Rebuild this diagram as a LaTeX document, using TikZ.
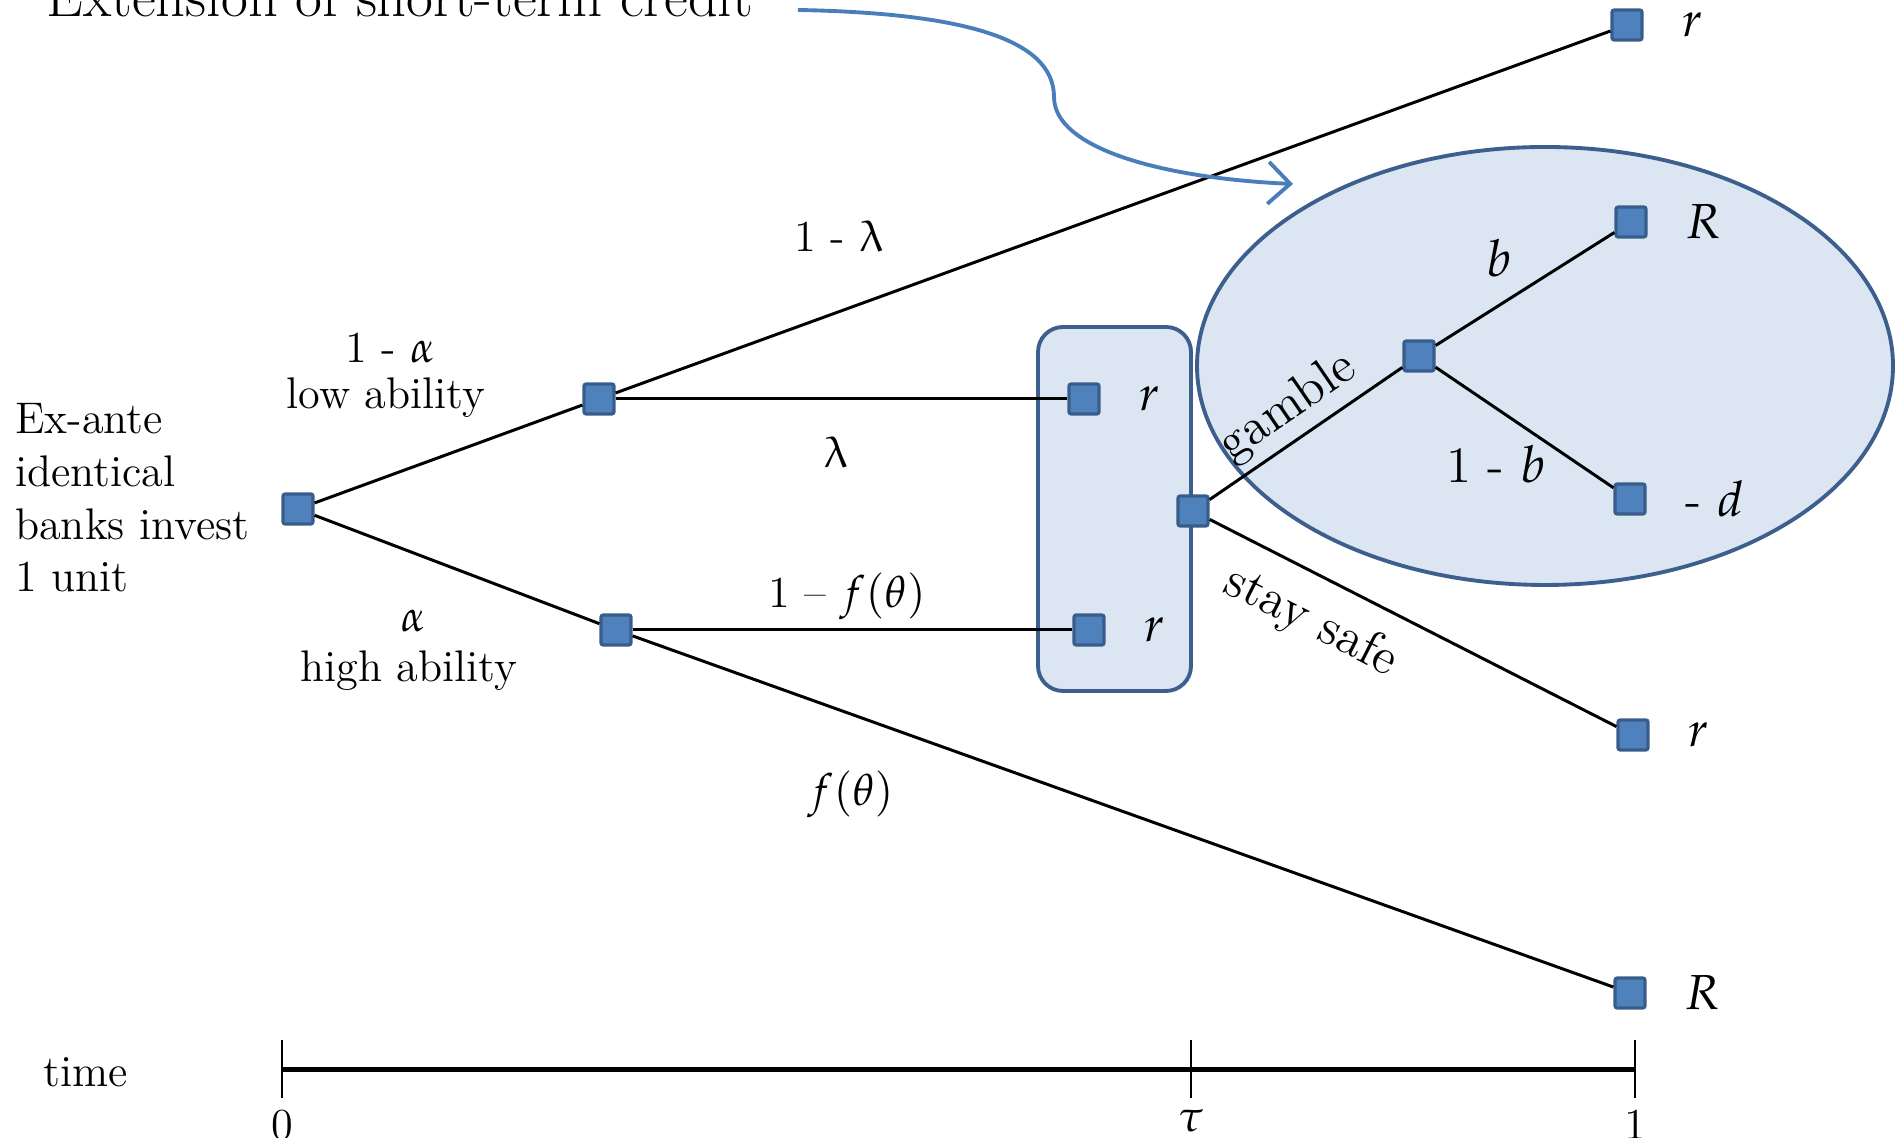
\documentclass[tikz,border=0pt]{standalone}
\usepackage{mathpazo}
\usepackage{upgreek}
\usetikzlibrary{positioning,arrows.meta}
\definecolor{sqblue}{HTML}{4F81BD}
\definecolor{sqedge}{HTML}{385D8A}
\definecolor{setfill}{HTML}{DCE6F3}
\definecolor{setedge}{HTML}{3C5F8D}
\definecolor{arrblue}{HTML}{4A7EBB}

\begin{document}
\begin{tikzpicture}[
  sq/.style={draw=sqedge, fill=sqblue, line width=0.9pt, minimum size=0.3cm, inner sep=0, rounded corners=0.6pt},
  br/.style={line width=0.85pt},
  lab/.style={font=\fontsize{12.6}{15}\selectfont, inner sep=0},
  biglab/.style={font=\fontsize{14.5}{17}\selectfont, inner sep=0},
  pay/.style={font=\fontsize{14}{16}\selectfont, inner sep=0, right=0.38cm of #1},
  infoset/.style={draw=setedge, fill=setfill, line width=1.1pt},
  axis/.style={line width=1.3pt},
  tick/.style={line width=0.5pt},
  arr/.style={-{Straight Barb[length=2.2mm,width=4.2mm]}, draw=arrblue, line width=1.1pt}
]
\useasboundingbox (0,0) rectangle (18.99,11.38);

% information sets
\draw[infoset, rounded corners=0.25cm] (10.38,4.47) rectangle (11.91,8.11);
\draw[infoset] (15.45,7.72) ellipse [x radius=3.48cm, y radius=2.19cm];

% decision nodes
\node[sq] (root) at (2.98,6.29) {};
\node[sq] (low) at (5.99,7.39) {};
\node[sq] (high) at (6.16,5.08) {};
\node[sq] (topr) at (16.27,11.13) {};
\node[sq] (setr1) at (10.84,7.39) {};
\node[sq] (setr2) at (10.89,5.08) {};
\node[sq] (tau) at (11.93,6.27) {};
\node[sq] (gam) at (14.19,7.82) {};
\node[sq] (gamR) at (16.31,9.16) {};
\node[sq] (gamd) at (16.30,6.39) {};
\node[sq] (safer) at (16.33,4.03) {};
\node[sq] (botR) at (16.30,1.45) {};

% payoffs
\node[pay=topr] {$r$};
\node[pay=setr1] {$r$};
\node[pay=setr2] {$r$};
\node[pay=gamR] {$R$};
\node[pay=gamd] {- $d$};
\node[pay=safer] {$r$};
\node[pay=botR] {$R$};

% branches
\draw[br] (root) -- (low);
\draw[br] (root) -- (high);
\draw[br] (low) -- (topr);
\draw[br] (low) -- (setr1);
\draw[br] (high) -- (setr2);
\draw[br] (high) -- (botR);
\draw[br] (tau) -- node[biglab, sloped, above=2pt, pos=0.5] {gamble} (gam);
\draw[br] (tau) -- node[biglab, sloped, below=6pt, pos=0.3] {stay safe} (safer);
\draw[br] (gam) -- (gamR);
\draw[br] (gam) -- (gamd);

% branch labels
\node[lab, align=left, anchor=west] (banks) at (0.145,6.40) {Ex-ante\\identical\\banks invest\\1 unit};
\node[lab] (pl) at (3.90,7.90) {1 - $\alpha$};
\node[lab] (pll) at (3.86,7.40) {low ability};
\node[lab] (ph) at (4.13,5.17) {$\alpha$};
\node[lab] (phl) at (4.09,4.67) {high ability};
\node[lab] (lam1) at (8.39,9.02) {1 - $\uplambda$};
\node[lab] (lam) at (8.36,6.86) {$\uplambda$};
\node[lab] (f1) at (8.47,5.42) {1 -- $f(\theta)$};
\node[lab] (f) at (8.51,3.44) {$f(\theta)$};
\node[biglab] (bb) at (14.99,8.80) {$b$};
\node[biglab] (b1) at (14.96,6.74) {1 - $b$};

% extension arrow
\node[font=\fontsize{16.6}{19}\selectfont, inner sep=0, anchor=base west] (credit) at (0.46,11.21) {Extension of short-term credit};
\coordinate (credtip) at (12.93,9.54);
\draw[arr] ([shift={(0.44,0.07)}]credit.base east) .. controls (9.6,11.25) and (10.54,11.0) .. (10.54,10.41)
  .. controls (10.54,9.9) and (11.6,9.6) .. (credtip);

% time line
\node[lab] (time) at (0.86,0.66) {time};
\coordinate (t0) at (2.82,0.686);
\coordinate (tt) at (11.91,0.686);
\coordinate (t1) at (16.35,0.686);
\draw[axis] (t0) -- (t1);
\foreach \t/\tl in {t0/0, tt/$\tau$, t1/1}{
  \draw[tick] ([yshift=0.29cm]\t) -- ([yshift=-0.29cm]\t);
  \node[lab, below=0.4cm of \t] {\tl};
}
\end{tikzpicture}
\end{document}
